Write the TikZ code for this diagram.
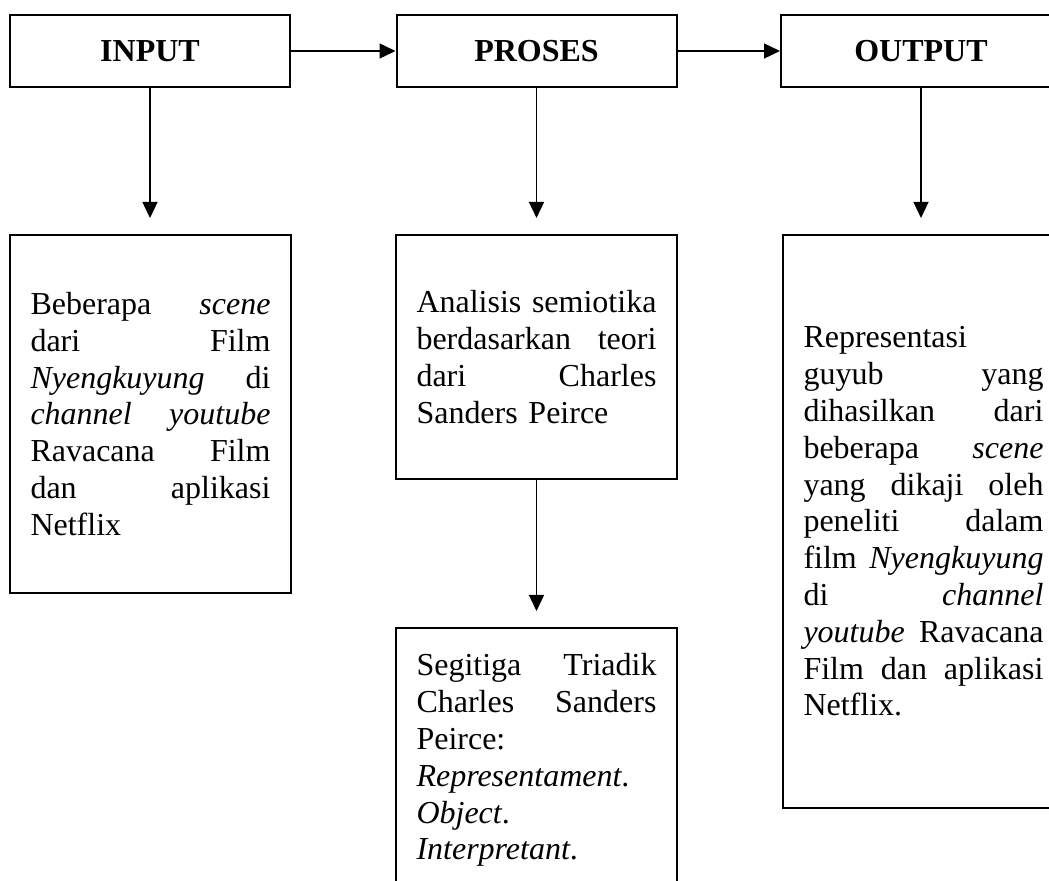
\documentclass[tikz,border=0pt]{standalone}
\usepackage{fontspec}
\setmainfont{Liberation Serif}
\usetikzlibrary{positioning}
\usetikzlibrary{arrows.meta}

\begin{document}
\begin{tikzpicture}[x=0.375pt, y=-0.375pt,
        font=\fontsize{12pt}{13.8pt}\selectfont,
        headbox/.style={draw, line width=0.75pt, minimum width=105pt, minimum height=27pt,
            font=\fontsize{12pt}{13.8pt}\selectfont\bfseries},
        descbox/.style={draw, line width=0.75pt, text width=90pt, align=left,
            inner xsep=7.6pt, inner ysep=0pt},
        arrow/.style={-{Triangle[length=6pt,width=5.6pt]}, line width=0.6pt}]
                \useasboundingbox (0,0) rectangle (1049,881);
                \clip (0,0) rectangle (1049,881);

                % Define the coordinates of the boxes
                \coordinate (pin) at (150,51);
                \coordinate (ppro) at (536.5,51);
                \coordinate (pout) at (921,51);
                \coordinate (pscene) at (150.5,414);
                \coordinate (pana) at (536.5,357);
                \coordinate (ptri) at (536.5,627);
                \coordinate (phas) at (923.5,521.5);

                \node[headbox] (input) at (pin) {INPUT};
                \node[headbox] (proses) at (ppro) {PROSES};
                \node[headbox] (output) at (pout) {OUTPUT};

                \node[descbox, minimum height=134.25pt] (scene) at (pscene)
                    {Beberapa \hfill \textit{scene}\\ dari \hfill Film\\
                     \textit{Nyengkuyung} \hfill di\\ \textit{channel} \hfill \textit{youtube}\\
                     Ravacana \hfill Film\\ dan \hfill aplikasi\\ Netflix};
                \node[descbox, minimum height=91.5pt] (analisis) at (pana)
                    {Analisis \hfill semiotika\\ berdasarkan \hfill teori\\
                     dari \hfill Charles\\ Sanders Peirce};
                \node[descbox, anchor=north, inner ysep=9.5pt, text height=8.5pt, text depth=100pt] (triadik) at (ptri)
                    {Segitiga \hfill Triadik\\ Charles \hfill Sanders\\ Peirce:\\
                     \textit{Representament}.\\ \textit{Object}.\\ \textit{Interpretant}.};
                \node[descbox, minimum height=214.9pt] (hasil) at (phas)
                    {Representasi\\ guyub \hfill yang\\ dihasilkan \hfill dari\\
                     beberapa \hfill \textit{scene}\\ yang \hfill dikaji \hfill oleh\\
                     peneliti \hfill dalam\\ film \hfill \textit{Nyengkuyung}\\
                     di \hfill \textit{channel}\\ \textit{youtube} \hfill Ravacana\\
                     Film \hfill dan \hfill aplikasi\\ Netflix.};

                \draw[arrow] (input) -- (proses);
                \draw[arrow] (proses) -- (output);

                \foreach \from/\to in {input/scene, proses/analisis, output/hasil, analisis/triadik}
                    \draw[arrow, shorten >=6pt] (\from.south) -- (\from.south |- \to.north);
            \end{tikzpicture}
\end{document}
